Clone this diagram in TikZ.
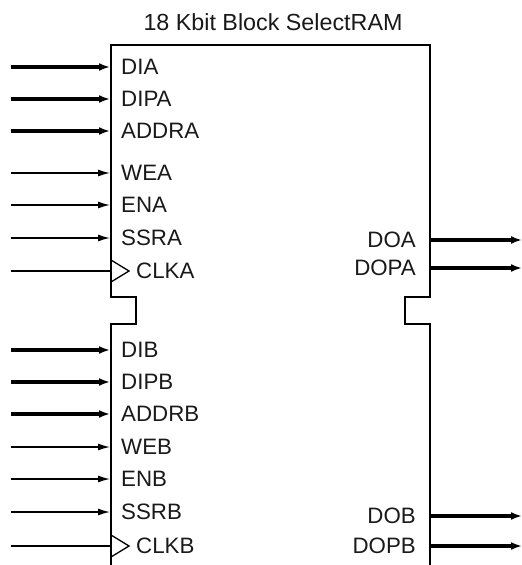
\documentclass[tikz,border=0pt]{standalone}
\usepackage{fontspec}
\setmainfont{Liberation Sans}
\usetikzlibrary{arrows.meta}
\begin{document}
\begin{tikzpicture}[x=1pt,y=-1pt,
  lbl/.style={inner sep=0pt,font=\fontsize{22.3}{25}\selectfont,text=black!90},
  bus/.style={line width=4pt,-{Latex[length=11pt,width=8pt]}},
  sig/.style={line width=1.4pt,-{Latex[length=12pt,width=7pt]}},
  boxline/.style={line width=2.6pt,line join=miter},
  clk/.style={line width=1.3pt}]
\useasboundingbox (0,0) rectangle (522,565);
\node[lbl,font=\fontsize{23.3}{26}\selectfont] (title) at (273,22) {18 Kbit Block SelectRAM};
\draw[boxline] (111,566) -- (111,324) -- (136,324) -- (136,297) -- (111,297) -- (111,45)
  -- (430,45) -- (430,297) -- (405,297) -- (405,324) -- (430,324) -- (430,566);
% left pins
\foreach \n/\y/\s in {DIA/67/bus,DIPA/99/bus,ADDRA/131/bus,WEA/173/sig,ENA/205/sig,SSRA/238/sig,
  DIB/350/bus,DIPB/382/bus,ADDRB/414/bus,WEB/447/sig,ENB/479/sig,SSRB/512/sig}{
  \coordinate (s\n) at (11,\y);
  \coordinate (p\n) at (110,\y);
  \node[lbl,anchor=west] (l\n) at (121,\y) {\n};
  \draw[\s] (s\n) -- (p\n);
}
\foreach \n/\y in {CLKA/271,CLKB/546}{
  \coordinate (s\n) at (11,\y);
  \coordinate (p\n) at (111,\y);
  \coordinate (t\n) at (129,\y);
  \node[lbl,anchor=west] (l\n) at (136,\y) {\n};
  \draw[clk] (s\n) -- (p\n);
  \draw[clk] (111,\y-11) -- (t\n) -- (111,\y+11);
}
% right pins
\foreach \n/\y in {DOA/240,DOPA/268,DOB/516,DOPB/546}{
  \coordinate (p\n) at (430,\y);
  \coordinate (e\n) at (522,\y);
  \node[lbl,anchor=east] (l\n) at (416,\y) {\n};
  \draw[bus] (p\n) -- (e\n);
}
\end{tikzpicture}
\end{document}
